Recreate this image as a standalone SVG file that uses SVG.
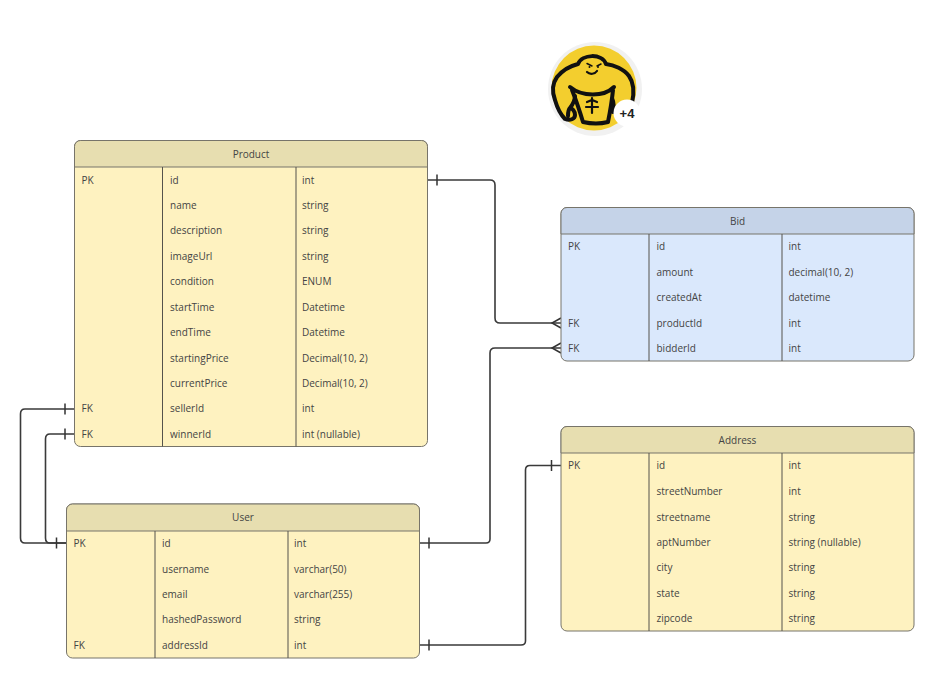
<svg xmlns="http://www.w3.org/2000/svg" width="937" height="673" viewBox="0 0 937 673">
<style>
text{font-family:"Open Sans","Noto Sans","Liberation Sans",sans-serif;font-size:10px;fill:#444;dominant-baseline:central}
.t{text-anchor:middle}
.box{stroke:#77746a;stroke-width:1}
.y{fill:#fef2c0}.yh{fill:#e7deb0}.b{fill:#dae8fc}.bh{fill:#c5d3e8}
.d{stroke:#55534c;stroke-width:1;fill:none}
.c{fill:none;stroke:#3a3a3a;stroke-width:1.6}
.m{fill:none;stroke:#333;stroke-width:1.5}
.k{fill:none;stroke:#111;stroke-width:4;stroke-linecap:round;stroke-linejoin:round}
</style>
<rect width="937" height="673" fill="#fff"/>
<g id="logo">
<circle cx="595" cy="89" r="47" fill="#f1f1f1"/>
<circle cx="594" cy="88" r="42.500" fill="#f3ce2e"/>
<path class="k" d="M578 64C582 54 602 53 606 64C614 65 624 69 629 76C634 83 634 94 632 103M578 64C570 66 562 71 557 77C552 84 552 92 555 100C557 107 560 114 565 119C570 121 575 119 575 115C575 111 572 108 570 108C568 110 568 113 568 116M570 108C573 104 575 101 575 96"/>
<path class="k" d="M570 87C582 97 604 97 614 87M572 90C576 100 580 112 583 122C592 124 600 124 608 122C610 112 612 100 613 90M612 98C614 103 614 108 613 112"/>
<path fill="none" stroke="#111" stroke-width="2.200" stroke-linecap="round" d="M592 98V113M587 102L592 100L597 102M586 107H598M587 72C590 75 595 74 597 71"/>
<path fill="none" stroke="#111" stroke-width="1.500" stroke-linecap="round" d="M587 63.500L592 66M597 66L601 64"/>
<circle cx="589.500" cy="67" r="1" fill="#111"/><circle cx="598" cy="67" r="1" fill="#111"/>
<circle cx="627" cy="113" r="13.500" fill="#fff"/>
<text x="627" y="113" class="t" style="font-family:'Liberation Sans',sans-serif;font-size:13px;font-weight:700;fill:#222">+4</text>
</g>
<g id="connectors">
<path class="c" d="M428 180H490Q495 180 495 185V318Q495 323 500 323H561"/>
<path class="c" d="M420 543H486Q490 543 490 539V353Q490 348 495 348H561"/>
<path class="c" d="M420 645H521Q525.500 645 525.500 641V470Q525.500 465.500 530 465.500H561"/>
<path class="c" d="M74 409H25Q20.500 409 20.500 414V538Q20.500 543 25 543H67"/>
<path class="c" d="M74 434H50Q45.500 434 45.500 439V538Q45.500 543 50 543H67"/>
<path class="m" d="M437 174.500V185.500M65 403.500V414.500M65 428.500V439.500M56.500 537.500V548.500M429 537.500V548.500M429 639.500V650.500M551.500 460V471M561 318L552 323L561 328M561 343L552 348L561 353"/>
</g>
<g id="product">
<rect class="box y" x="74.500" y="140.500" width="353" height="306" rx="6"/>
<path class="box yh" d="M74.500 167V146.500a6 6 0 0 1 6-6H421.500a6 6 0 0 1 6 6V167Z"/>
<path class="d" d="M162.500 167V446.500M296 167V446.500"/>
<text x="251" y="154" class="t">Product</text>
<text x="81.500" y="180">PK</text><text x="170" y="180">id</text><text x="302" y="180">int</text>
<text x="170" y="205">name</text><text x="302" y="205">string</text>
<text x="170" y="230">description</text><text x="302" y="230">string</text>
<text x="170" y="256">imageUrl</text><text x="302" y="256">string</text>
<text x="170" y="281">condition</text><text x="302" y="281">ENUM</text>
<text x="170" y="307">startTime</text><text x="302" y="307">Datetime</text>
<text x="170" y="332">endTime</text><text x="302" y="332">Datetime</text>
<text x="170" y="358">startingPrice</text><text x="302" y="358">Decimal(10, 2)</text>
<text x="170" y="383">currentPrice</text><text x="302" y="383">Decimal(10, 2)</text>
<text x="81.500" y="408">FK</text><text x="170" y="408">sellerId</text><text x="302" y="408">int</text>
<text x="81.500" y="434">FK</text><text x="170" y="434">winnerId</text><text x="302" y="434">int (nullable)</text>
</g>
<g id="bid">
<rect class="box b" x="561" y="207.500" width="353" height="153.500" rx="6"/>
<path class="box bh" d="M561 234V213.500a6 6 0 0 1 6-6H908a6 6 0 0 1 6 6V234Z"/>
<path class="d" d="M649 234V361M782 234V361"/>
<text x="737.500" y="221" class="t">Bid</text>
<text x="568" y="246">PK</text><text x="656.500" y="246">id</text><text x="788.500" y="246">int</text>
<text x="656.500" y="272">amount</text><text x="788.500" y="272">decimal(10, 2)</text>
<text x="656.500" y="297">createdAt</text><text x="788.500" y="297">datetime</text>
<text x="568" y="323">FK</text><text x="656.500" y="323">productId</text><text x="788.500" y="323">int</text>
<text x="568" y="348">FK</text><text x="656.500" y="348">bidderId</text><text x="788.500" y="348">int</text>
</g>
<g id="address">
<rect class="box y" x="561" y="426.500" width="353" height="204.500" rx="6"/>
<path class="box yh" d="M561 453V432.500a6 6 0 0 1 6-6H908a6 6 0 0 1 6 6V453Z"/>
<path class="d" d="M649 453V631M782 453V631"/>
<text x="737.500" y="440" class="t">Address</text>
<text x="568" y="465">PK</text><text x="656.500" y="465">id</text><text x="788.500" y="465">int</text>
<text x="656.500" y="491">streetNumber</text><text x="788.500" y="491">int</text>
<text x="656.500" y="517">streetname</text><text x="788.500" y="517">string</text>
<text x="656.500" y="542">aptNumber</text><text x="788.500" y="542">string (nullable)</text>
<text x="656.500" y="567">city</text><text x="788.500" y="567">string</text>
<text x="656.500" y="593">state</text><text x="788.500" y="593">string</text>
<text x="656.500" y="618">zipcode</text><text x="788.500" y="618">string</text>
</g>
<g id="user">
<rect class="box y" x="66.500" y="504" width="353" height="154" rx="6"/>
<path class="box yh" d="M66.500 531V510a6 6 0 0 1 6-6H413.500a6 6 0 0 1 6 6V531Z"/>
<path class="d" d="M155 531V658M288 531V658"/>
<text x="243" y="517" class="t">User</text>
<text x="73.500" y="543">PK</text><text x="162" y="543">id</text><text x="294" y="543">int</text>
<text x="162" y="569">username</text><text x="294" y="569">varchar(50)</text>
<text x="162" y="594">email</text><text x="294" y="594">varchar(255)</text>
<text x="162" y="619">hashedPassword</text><text x="294" y="619">string</text>
<text x="73.500" y="645">FK</text><text x="162" y="645">addressId</text><text x="294" y="645">int</text>
</g>
</svg>
